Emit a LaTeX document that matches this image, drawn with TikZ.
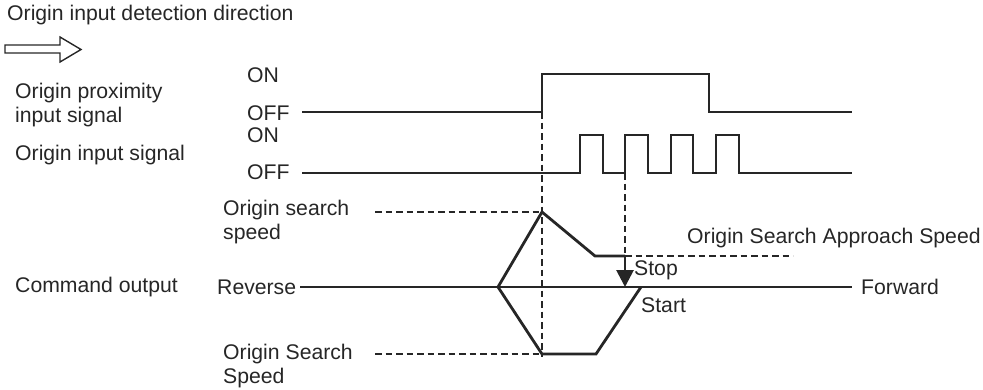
\documentclass[tikz,border=0pt]{standalone}
\usepackage{fontspec}
\setmainfont{Liberation Sans}
\usetikzlibrary{arrows.meta}
\begin{document}
\begin{tikzpicture}[x=1pt,y=-1pt,
  lbl/.style={anchor=west,inner sep=0pt,font=\fontsize{21.2}{24}\selectfont,align=left,text=black!85},
  sig/.style={line width=2.8pt,line join=miter,draw=black!85},
  axis/.style={line width=1.6pt,draw=black!85},
  dsh/.style={line width=1.7pt,dash pattern=on 6.5pt off 4pt,draw=black!85}]
\useasboundingbox (0,0) rectangle (983,389);
% title and open arrow
\node[lbl] (title) at (7,15) {Origin input detection direction};
\draw[line width=1.4pt,draw=black!85] (5,45) -- (60,45) -- (60,37) -- (81,49.5) -- (60,62) -- (60,53) -- (5,53) -- cycle;
% left labels
\node[lbl] (prox) at (15,105) {Origin proximity\\input signal};
\node[lbl] (inp) at (15,155) {Origin input signal};
\node[lbl] (cmd) at (15,287) {Command output};
\node[lbl] (on1) at (247,75) {ON};
\node[lbl] (off1) at (247,113) {OFF};
\node[lbl] (on2) at (247,135) {ON};
\node[lbl] (off2) at (247,172) {OFF};
\node[lbl] (oss1) at (223,222) {Origin search\\speed};
\node[lbl] (rev) at (217,287) {Reverse};
\node[lbl] (oss2) at (223,366) {Origin Search\\Speed};
\node[lbl] (osas) at (687,238) {Origin Search Approach Speed};
\node[lbl] (stop) at (634,270) {Stop};
\node[lbl] (start) at (641,305) {Start};
\node[lbl] (fwd) at (861,287) {Forward};
% key coordinates
\coordinate (p0) at (302,112);
\coordinate (pr) at (542,112);
\coordinate (pf) at (709,112);
\coordinate (pe) at (852,112);
\coordinate (i0) at (302,173);
\coordinate (ie) at (852,173);
\coordinate (ax0) at (300,287);
\coordinate (axe) at (852,287);
\coordinate (left) at (498,287);
\coordinate (peak) at (542,212);
\coordinate (dec) at (595,256);
\coordinate (app) at (625,256);
\coordinate (stopp) at (625,287);
\coordinate (bot) at (542,354);
\coordinate (bot2) at (596,354);
\coordinate (startp) at (641,287);
\coordinate (pulse2) at (625,173);
\coordinate (vbot) at (542,357);
\coordinate (dl1) at (375,212);
\coordinate (dl2) at (375,354);
\coordinate (dl3) at (793,256);
% proximity signal
\draw[sig] (p0) -- (pr) -- (542,74) -- (709,74) -- (pf) -- (pe);
% origin input signal
\draw[sig] (i0) -- (580,173) -- (580,135) -- (603,135) -- (603,173)
  -- (625,173) -- (625,135) -- (648,135) -- (648,173)
  -- (671,173) -- (671,135) -- (693,135) -- (693,173)
  -- (716,173) -- (716,135) -- (739,135) -- (739,173) -- (ie);
% axis
\draw[axis] (ax0) -- (axe);
% dashed lines
\draw[dsh] (pr) -- (vbot);
\draw[dsh] (pulse2) -- (app);
\draw[dsh] (dl1) -- (peak);
\draw[dsh] (dl2) -- (bot);
\draw[dsh] (app) -- (dl3);
% speed profile
\draw[sig] (left) -- (peak) -- (dec) -- (app);
\draw[sig,-{Triangle[length=17pt,width=17pt]}] (app) -- (stopp);
\draw[sig] (left) -- (bot) -- (bot2) -- (startp);
\end{tikzpicture}
\end{document}
